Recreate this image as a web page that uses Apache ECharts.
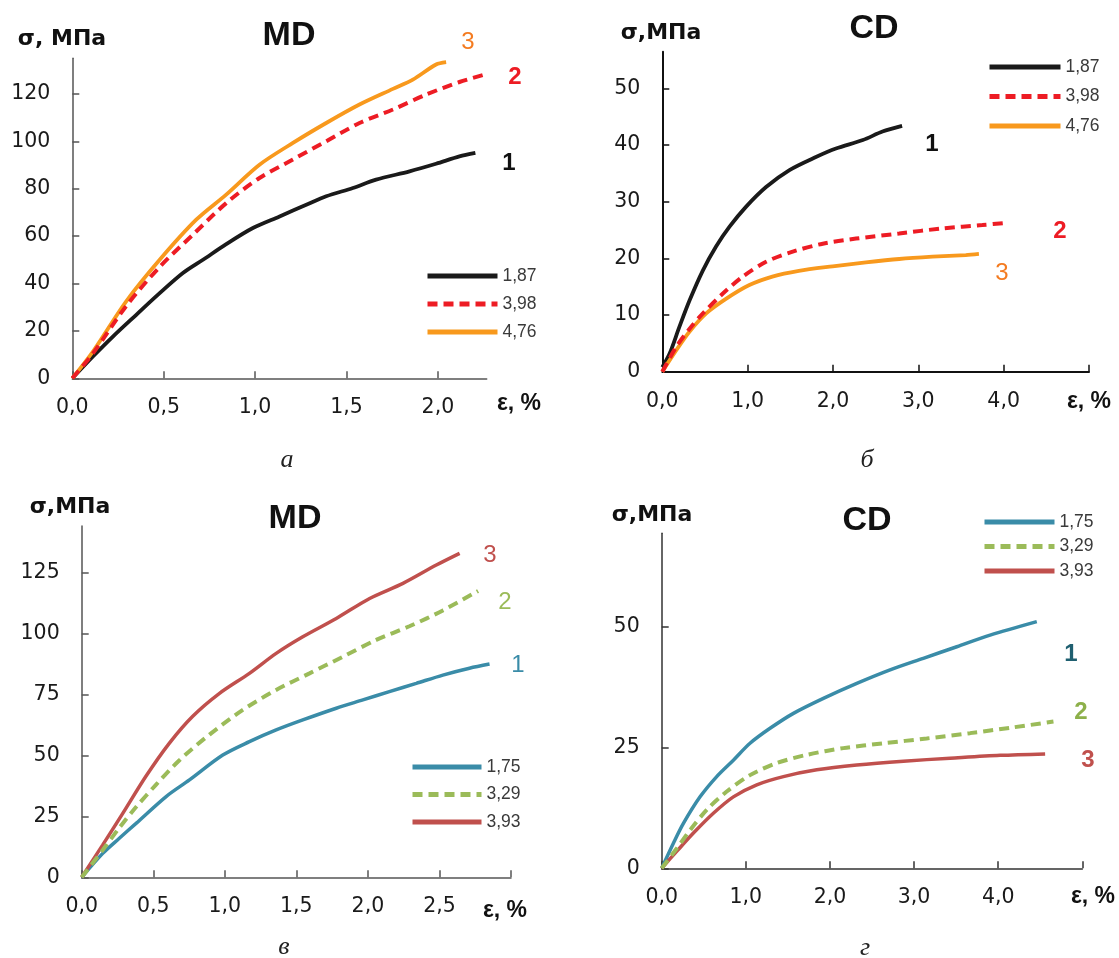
<!DOCTYPE html>
<html>
<head>
<meta charset="utf-8">
<script src="https://cdn.jsdelivr.net/npm/echarts@6/dist/echarts.min.js"></script>
<style>
html,body{margin:0;padding:0;background:#fff;}
#chart{width:1119px;height:958px;}
</style>
</head>
<body>
<div id="chart"></div>
<script>
// ---------- DATA ----------
// Panel а (MD): strain ε, % and stress σ, MPa
const aNames = ['1,87', '3,98', '4,76'];
const aEps1 = [0, 0.113, 0.222, 0.35, 0.478, 0.605, 0.715, 0.842, 0.988, 1.134, 1.28, 1.389, 1.535, 1.662, 1.845, 1.99, 2.118, 2.205];
const aSig1 = [0, 9.2, 17.6, 26.8, 35.9, 44.4, 50, 56.6, 63.4, 68.3, 73.2, 76.8, 80.3, 83.8, 87.3, 90.5, 93.6, 95.1];
const aEps2 = [0, 0.113, 0.295, 0.478, 0.66, 0.842, 1.024, 1.207, 1.389, 1.571, 1.754, 1.936, 2.118, 2.26];
const aSig2 = [0, 10.5, 30.5, 47, 60.6, 73.9, 84.5, 92.3, 100, 107.7, 113.4, 119.7, 125, 128.2];
const aEps3 = [0, 0.113, 0.295, 0.478, 0.678, 0.842, 1.024, 1.207, 1.389, 1.571, 1.754, 1.863, 1.99, 2.045];
const aSig3 = [0, 11.3, 32.5, 50, 66.9, 77.5, 90.1, 99.3, 107.7, 115.5, 122.1, 126, 132.4, 133.4];

// Panel б (CD)
const bNames = ['1,87', '3,98', '4,76'];
const bEps1 = [0, 0.086, 0.2, 0.32, 0.476, 0.63, 0.788, 0.98, 1.216, 1.49, 1.8, 2.035, 2.35, 2.58, 2.81];
const bSig1 = [0.8, 3.2, 7.9, 12.6, 17.9, 22.1, 25.6, 29.1, 32.6, 35.6, 37.9, 39.4, 40.9, 42.4, 43.4];
const bEps2 = [0, 0.164, 0.32, 0.476, 0.71, 0.943, 1.216, 1.528, 1.88, 2.27, 2.776, 3.28, 3.75, 4.04];
const bSig2 = [0, 4.4, 7.6, 10.3, 13.8, 16.8, 19.4, 21.2, 22.6, 23.5, 24.4, 25.3, 25.9, 26.3];
const bEps3 = [0, 0.164, 0.32, 0.515, 0.75, 1.02, 1.29, 1.6, 1.996, 2.386, 2.776, 3.166, 3.556, 3.71];
const bSig3 = [0, 3.8, 7.1, 10.3, 12.9, 15.3, 16.8, 17.8, 18.6, 19.3, 19.9, 20.3, 20.6, 20.8];

// Panel в (MD)
const cNames = ['1,75', '3,29', '3,93'];
const cEps1 = [0, 0.147, 0.263, 0.38, 0.59, 0.753, 0.986, 1.172, 1.359, 1.545, 1.779, 1.965, 2.15, 2.338, 2.524, 2.71, 2.85];
const cSig1 = [0, 9.8, 16, 22.1, 33.1, 39.9, 50.1, 55.6, 60.4, 64.5, 69.3, 72.7, 76.1, 79.5, 82.9, 85.7, 87.4];
const cEps2 = [0, 0.147, 0.263, 0.38, 0.52, 0.683, 0.893, 1.126, 1.359, 1.592, 1.825, 2.058, 2.29, 2.524, 2.77];
const cSig2 = [0, 11.2, 20.3, 28.8, 38, 48, 58.5, 68.6, 76.8, 83.6, 90.4, 97.3, 102.9, 109.4, 117.4];
const cEps3 = [0, 0.147, 0.287, 0.45, 0.613, 0.776, 0.963, 1.172, 1.359, 1.545, 1.779, 2.012, 2.245, 2.478, 2.641];
const cSig3 = [0, 13.3, 26.2, 41.5, 55, 66, 75.4, 83.6, 91.8, 98.6, 106.1, 114.3, 120.5, 128, 132.8];

// Panel г (CD)
const dNames = ['1,75', '3,29', '3,93'];
const dEps1 = [0, 0.139, 0.258, 0.456, 0.654, 0.852, 1.05, 1.288, 1.566, 1.922, 2.319, 2.715, 3.11, 3.508, 3.904, 4.459];
const dSig1 = [0, 5.2, 9.3, 14.8, 19, 22.4, 25.9, 29, 32.1, 35.2, 38.3, 41.1, 43.5, 45.9, 48.3, 51.1];
const dEps2 = [0, 0.178, 0.337, 0.535, 0.773, 1.05, 1.367, 1.724, 2.16, 2.636, 3.15, 3.666, 4.18, 4.657];
const dSig2 = [0, 4.1, 7.9, 12.1, 15.9, 19.3, 21.8, 23.5, 24.9, 25.9, 26.9, 28, 29.2, 30.4];
const dEps3 = [0, 0.178, 0.377, 0.614, 0.852, 1.13, 1.447, 1.843, 2.319, 2.874, 3.428, 4.023, 4.558];
const dSig3 = [0, 3.5, 7.3, 11.4, 14.8, 17.3, 19, 20.4, 21.4, 22.2, 22.8, 23.4, 23.7];

// Axis ticks / labels
const aXTicks = [0, 0.5, 1.0, 1.5, 2.0];
const aYTicks = [0, 20, 40, 60, 80, 100, 120];
const bXTicks = [0, 1, 2, 3, 4, 5];
const bXLabels = [0, 1, 2, 3, 4];
const bYTicks = [0, 10, 20, 30, 40, 50];
const cXTicks = [0, 0.5, 1.0, 1.5, 2.0, 2.5, 3.0];
const cXLabels = [0, 0.5, 1.0, 1.5, 2.0, 2.5];
const cYTicks = [0, 25, 50, 75, 100, 125];
const dXTicks = [0, 1, 2, 3, 4, 5];
const dXLabels = [0, 1, 2, 3, 4];
const dYTicks = [0, 25, 50];

// ---------- CHART ----------
const SANS = '"Liberation Sans", Arial, sans-serif';
const DEJ = '"DejaVu Sans", sans-serif';
const zip = (xs, ys) => xs.map((x, i) => [x, ys[i]]);
const fmtX = v => Number(v).toFixed(1).replace('.', ',');

const grids = [
  { left: 72.3, top: 58.3, width: 414.4, height: 320 },
  { left: 662.3, top: 51.7, width: 426.7, height: 320 },
  { left: 81.7, top: 526, width: 429.3, height: 351.3 },
  { left: 661.7, top: 533.3, width: 420.6, height: 335 }
];
const axisColors = ['#555', '#111', '#555', '#333'];

function xAxis(i, max, ticks, labels) {
  return {
    type: 'value', gridIndex: i, min: 0, max: max,
    splitLine: { show: false },
    axisLine: { show: true, lineStyle: { color: axisColors[i], width: i === 1 ? 2 : 1.5 } },
    axisTick: { show: true, inside: true, length: 7, customValues: ticks, lineStyle: { color: axisColors[i], width: 1.5 } },
    axisLabel: { customValues: labels, formatter: fmtX, margin: 19, fontSize: 20.5, color: '#1a1a1a', fontFamily: DEJ }
  };
}
function yAxis(i, max, ticks) {
  return {
    type: 'value', gridIndex: i, min: 0, max: max,
    splitLine: { show: false },
    axisLine: { show: true, lineStyle: { color: axisColors[i], width: i === 1 ? 2 : 1.5 } },
    axisTick: { show: true, inside: true, length: 7, customValues: ticks, lineStyle: { color: axisColors[i], width: 1.5 } },
    axisLabel: { customValues: ticks, margin: 22, fontSize: 20.5, color: '#1a1a1a', fontFamily: DEJ }
  };
}

function line(name, idx, xs, ys, color, width, dashed) {
  return {
    type: 'line', name: name, xAxisIndex: idx, yAxisIndex: idx,
    data: zip(xs, ys), symbol: 'none', showSymbol: false, smooth: 0.3,
    lineStyle: { color: color, width: width, type: dashed ? [10, 6] : 'solid', cap: 'butt' },
    itemStyle: { color: color },
    z: dashed ? 3 : 2
  };
}

const BLACK = '#1a1a1a', RED = '#ED1C24', ORANGE = '#F8991D';
const BLUE = '#3A8CA8', GREEN = '#9BBB59', BRICK = '#C0504D';

const series = [
  line(aNames[0], 0, aEps1, aSig1, BLACK, 3.8, false),
  line(aNames[1], 0, aEps2, aSig2, RED, 4, true),
  line(aNames[2], 0, aEps3, aSig3, ORANGE, 3.8, false),
  line(bNames[0], 1, bEps1, bSig1, BLACK, 3.8, false),
  line(bNames[1], 1, bEps2, bSig2, RED, 4, true),
  line(bNames[2], 1, bEps3, bSig3, ORANGE, 3.8, false),
  line(cNames[0], 2, cEps1, cSig1, BLUE, 3.5, false),
  line(cNames[1], 2, cEps2, cSig2, GREEN, 4, true),
  line(cNames[2], 2, cEps3, cSig3, BRICK, 3.5, false),
  line(dNames[0], 3, dEps1, dSig1, BLUE, 3.5, false),
  line(dNames[1], 3, dEps2, dSig2, GREEN, 4, true),
  line(dNames[2], 3, dEps3, dSig3, BRICK, 3.5, false)
];

function legend(names, left, top, w, gap) {
  return {
    data: names, left: left, top: top, orient: 'vertical', padding: 0,
    itemWidth: w, itemHeight: 14, itemGap: gap, selectedMode: false,
    lineStyle: { width: 5 },
    itemStyle: { opacity: 0, color: 'rgba(0,0,0,0)', borderWidth: 0 },
    textStyle: { fontSize: 17.5, color: '#3a3a3a', fontFamily: SANS }
  };
}

function txt(s, x, y, font, color, align) {
  return { type: 'text', x: x, y: y, silent: true,
    style: { text: s, font: font, fill: color || '#111', align: align || 'center', verticalAlign: 'middle' } };
}
const TITLE = 'bold 34px ' + SANS;
const YNAME = 'bold 22px ' + DEJ;
const XNAME = 'bold 23px ' + SANS;
const NUMB = 'bold 24px ' + SANS;
const NUMN = '24px ' + SANS;
const CAP = 'italic 26px "Liberation Serif", "Times New Roman", serif';

const graphic = [
  // panel а
  txt('MD', 289, 36, TITLE, '#111'),
  txt('σ, МПа', 62, 39, YNAME, '#111'),
  txt('ε, %', 519, 404, XNAME, '#111'),
  txt('3', 468, 42, NUMN, '#F47B20'),
  txt('2', 515, 77, NUMB, RED),
  txt('1', 509, 163, NUMB, '#111'),
  txt('а', 287, 460, CAP, '#222'),
  // panel б
  txt('CD', 874, 29, TITLE, '#111'),
  txt('σ,МПа', 661, 33, YNAME, '#111'),
  txt('ε, %', 1089, 402, XNAME, '#111'),
  txt('1', 932, 144, NUMB, '#111'),
  txt('2', 1060, 231, NUMB, RED),
  txt('3', 1002, 273, NUMN, '#F47B20'),
  txt('б', 867, 460, CAP, '#222'),
  // panel в
  txt('MD', 295, 519, TITLE, '#111'),
  txt('σ,МПа', 70, 507, YNAME, '#111'),
  txt('ε, %', 505, 911, XNAME, '#111'),
  txt('3', 490, 555, NUMN, BRICK),
  txt('2', 505, 602, NUMN, GREEN),
  txt('1', 518, 665, NUMN, BLUE),
  txt('в', 284, 947, CAP, '#222'),
  // panel г
  txt('CD', 867, 521, TITLE, '#111'),
  txt('σ,МПа', 652, 515, YNAME, '#111'),
  txt('ε, %', 1093, 897, XNAME, '#111'),
  txt('1', 1071, 654, NUMB, '#1F5F70'),
  txt('2', 1081, 712, NUMB, '#8DB04A'),
  txt('3', 1088, 760, NUMB, BRICK),
  txt('г', 865, 948, CAP, '#222')
];

const option = {
  animation: false,
  backgroundColor: '#fff',
  grid: grids.map(g => Object.assign({ containLabel: false }, g)),
  xAxis: [
    xAxis(0, 2.267, aXTicks, aXTicks),
    xAxis(1, 5, bXTicks, bXLabels),
    xAxis(2, 3, cXTicks, cXLabels),
    xAxis(3, 5, dXTicks, dXLabels)
  ],
  yAxis: [
    yAxis(0, 135, aYTicks),
    yAxis(1, 56.5, bYTicks),
    yAxis(2, 144, cYTicks),
    yAxis(3, 69.4, dYTicks)
  ],
  legend: [
    legend(aNames, 425, 267, 70, 10),
    legend(bNames, 987, 58, 71, 11.5),
    legend(cNames, 410, 758, 69, 9.5),
    legend(dNames, 982, 513, 70, 6.5)
  ],
  series: series,
  graphic: graphic
};

const chart = echarts.init(document.getElementById('chart'), null, { renderer: 'canvas' });
chart.setOption(option);
</script>
</body>
</html>
